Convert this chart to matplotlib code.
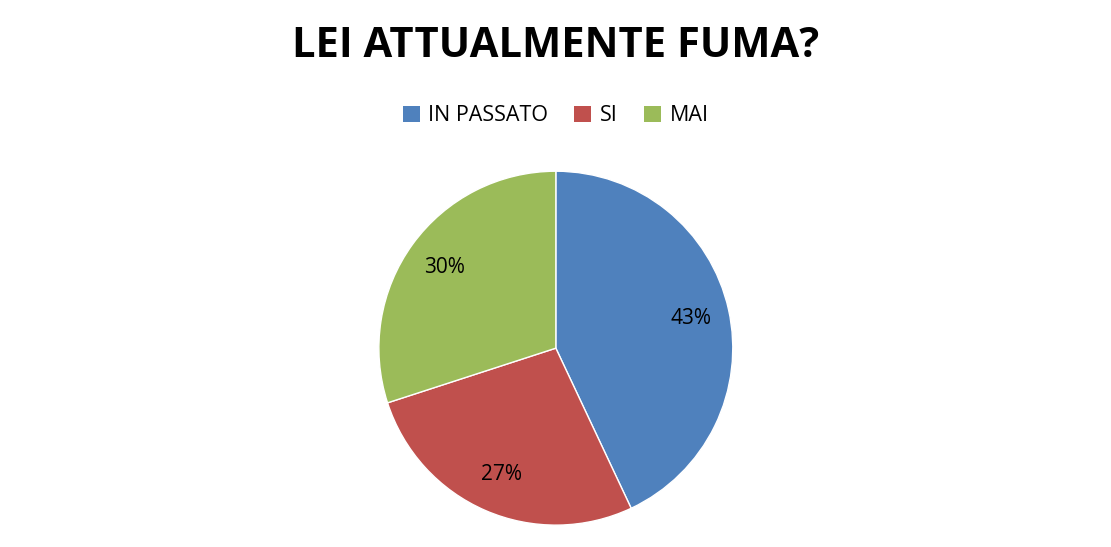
import matplotlib.pyplot as plt
from matplotlib.patches import Patch

labels = ['IN PASSATO', 'SI', 'MAI']
values = [43, 27, 30]
colors = ['#4F81BD', '#C0504D', '#9BBB59']

plt.rcParams['font.family'] = ['Open Sans', 'DejaVu Sans']

fig = plt.figure(figsize=(11.11, 5.47), dpi=100)
ax = fig.add_axes([0.341, 0.040, 0.3186, 0.647])
ax.pie(values, colors=colors, startangle=90, counterclock=False,
       autopct='%1.0f%%', pctdistance=0.78,
       wedgeprops={'edgecolor': 'white', 'linewidth': 1},
       textprops={'fontsize': 15, 'color': 'black'})
ax.set_xlim(-1.0, 1.0)
ax.set_ylim(-1.0, 1.0)
ax.set_aspect('equal')

fig.text(0.5, 0.915, 'LEI ATTUALMENTE FUMA?', ha='center', va='center',
         fontsize=30, fontweight='bold')

handles = [Patch(facecolor=c, label=l) for c, l in zip(colors, labels)]
fig.legend(handles=handles, loc='center', bbox_to_anchor=(0.5, 0.788), ncol=3,
           frameon=False, fontsize=15.5, handlelength=0.8, handleheight=0.8,
           handletextpad=0.4, columnspacing=1.2)

fig.savefig('out.png', dpi=100)
